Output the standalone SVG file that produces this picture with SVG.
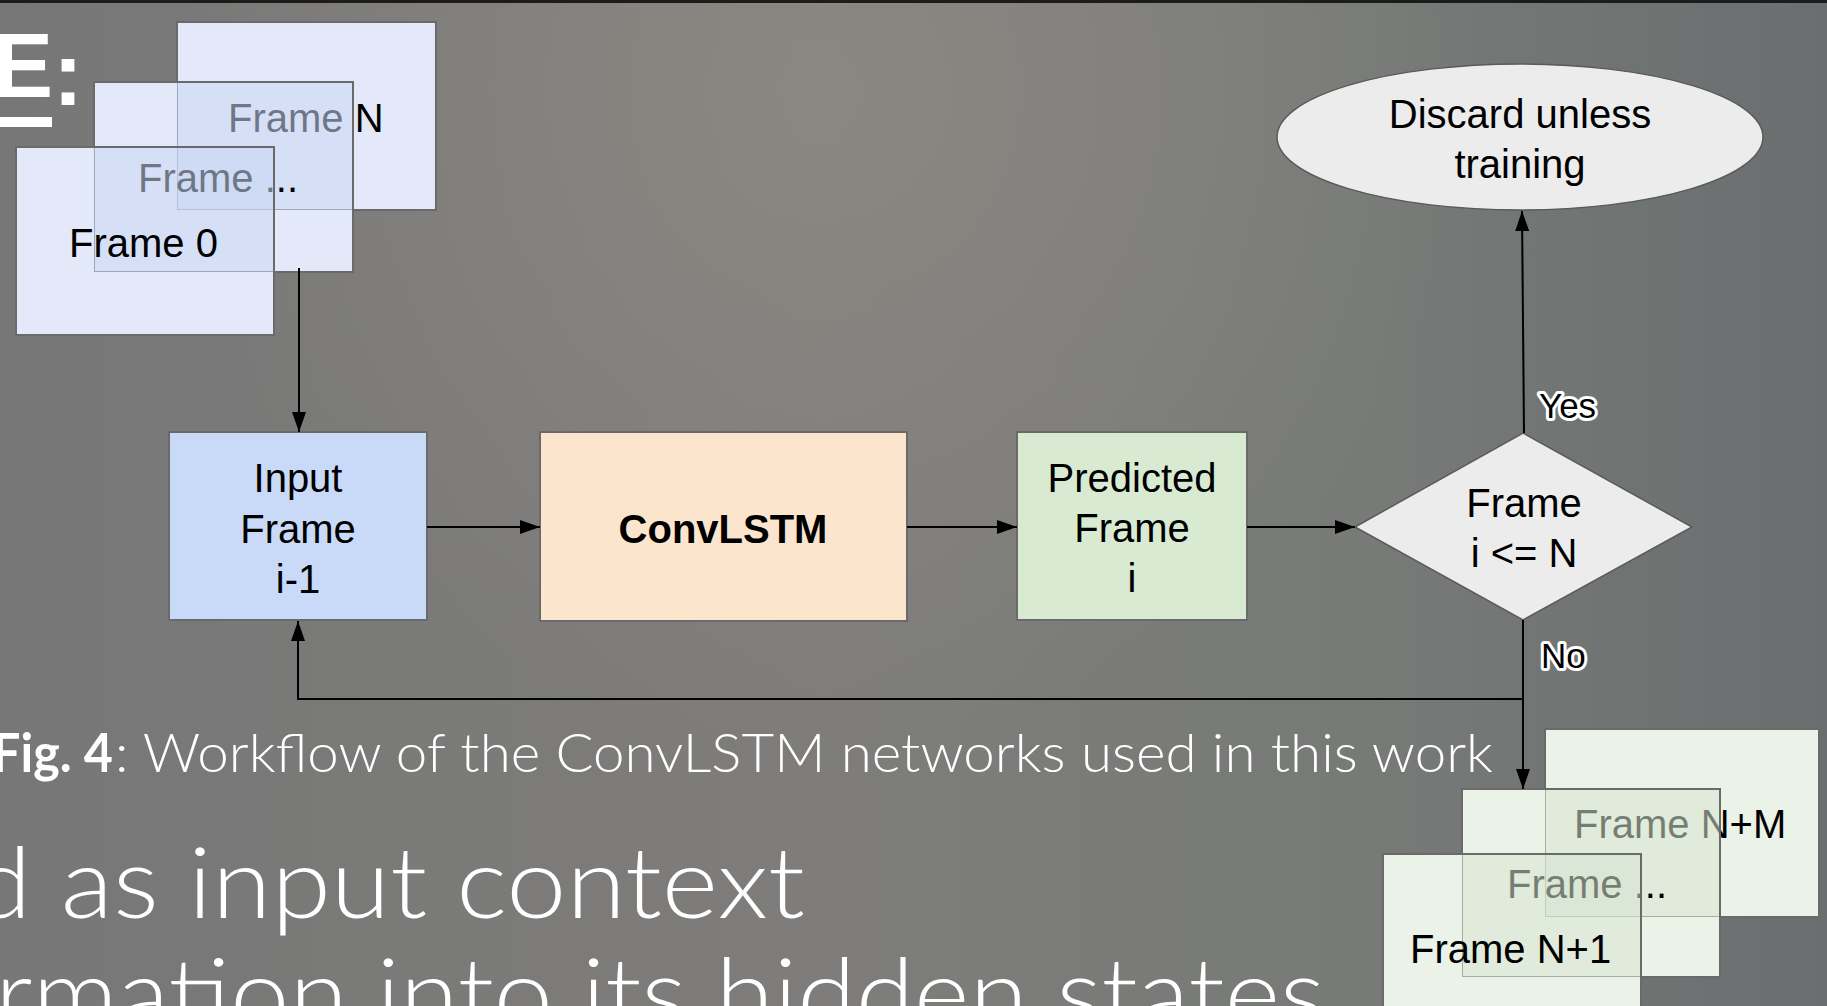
<svg xmlns="http://www.w3.org/2000/svg" width="1827" height="1006" viewBox="0 0 1827 1006">
<defs>
<linearGradient id="bg" x1="0" y1="0" x2="1" y2="0">
<stop offset="0" stop-color="#777777"/>
<stop offset="0.45" stop-color="#7e7d7b"/>
<stop offset="0.75" stop-color="#777a77"/>
<stop offset="1" stop-color="#6a6e6f"/>
</linearGradient>
<radialGradient id="glow" cx="820" cy="90" r="650" gradientUnits="userSpaceOnUse">
<stop offset="0" stop-color="#8e8a84" stop-opacity="0.8"/>
<stop offset="1" stop-color="#8e8a84" stop-opacity="0"/>
</radialGradient>
<marker id="arr" viewBox="0 0 20 14" markerWidth="20" markerHeight="14" refX="20" refY="7" orient="auto" markerUnits="userSpaceOnUse">
<path d="M0,0 L20,7 L0,14 Z" fill="#000"/>
</marker>
<style>
.t{font-family:"Liberation Sans",Arial,sans-serif;font-size:40px;fill:#000}
.c{text-anchor:middle}
.box{stroke:#6a6a6a;stroke-width:2}
.bs{fill:#e3e9f8}
.bo{fill:rgb(202,215,243);fill-opacity:0.55}
.gs{fill:#ebf3e8}
.go{fill:rgb(215,227,210);fill-opacity:0.55}
.edge{stroke:#6a6a6a;stroke-width:2;fill:none}
.lbl{font-family:"Liberation Sans",Arial,sans-serif;font-size:35px;fill:#000;stroke:#fff;stroke-width:6;stroke-linejoin:round;paint-order:stroke}
.cn{stroke:#000;stroke-width:2;fill:none}
.slide{font-family:Lato,"Open Sans",sans-serif;fill:#fff}
</style>
</defs>
<rect x="0" y="0" width="1827" height="1006" fill="url(#bg)"/>
<rect x="0" y="0" width="1827" height="1006" fill="url(#glow)"/>
<rect x="0" y="0" width="1827" height="3" fill="#1c1c1c"/>

<g id="title">
<text x="-7" y="97" style="font-family:'Liberation Sans',Arial,sans-serif;font-weight:700;font-size:90px;fill:#fff">E<tspan dy="8">:</tspan></text>
<rect x="0" y="117" width="52" height="10" fill="#fff"/>
</g>

<g id="caption" class="slide">
<text x="-8" y="772" font-size="53" font-weight="700" textLength="121" lengthAdjust="spacingAndGlyphs">Fig. 4</text>
<text x="115" y="772" font-size="53" font-weight="300" textLength="1378" lengthAdjust="spacingAndGlyphs">: Workflow of the ConvLSTM networks used in this work</text>
</g>
<g id="body-text" class="slide">
<text x="-28" y="918" font-size="98" font-weight="300" textLength="833" lengthAdjust="spacingAndGlyphs">d as input context</text>
<text x="-5" y="1029" font-size="98" font-weight="300" textLength="1330" lengthAdjust="spacingAndGlyphs">rmation into its hidden states</text>
</g>

<g id="input-frames">
<rect class="bs" x="177" y="22" width="259" height="188"/>
<rect class="edge" x="177" y="22" width="259" height="188"/>
<text class="t" x="228" y="132">Frame N</text>
<path class="bs" fill-rule="evenodd" d="M94,82 H353 V272 H94 Z M177,82 H353 V210 H177 Z"/>
<rect class="bo" x="177" y="82" width="176" height="128"/>
<rect class="edge" x="94" y="82" width="259" height="190"/>
<text class="t" x="138" y="192">Frame ...</text>
<path class="bs" fill-rule="evenodd" d="M16,147 H274 V335 H16 Z M94,147 H274 V272 H94 Z"/>
<rect class="bo" x="94" y="147" width="180" height="125"/>
<rect class="edge" x="16" y="147" width="258" height="188"/>
<text class="t" x="69" y="257">Frame 0</text>
</g>

<g id="output-frames">
<rect class="gs" x="1545" y="729" width="274" height="188"/>
<rect class="edge" x="1545" y="729" width="274" height="188"/>
<text class="t" x="1574" y="838">Frame N+M</text>
<path class="gs" fill-rule="evenodd" d="M1462,789 H1720 V977 H1462 Z M1545,789 H1720 V917 H1545 Z"/>
<rect class="go" x="1545" y="789" width="175" height="128"/>
<rect class="edge" x="1462" y="789" width="258" height="188"/>
<text class="t" x="1507" y="898">Frame ...</text>
<path class="gs" fill-rule="evenodd" d="M1383,854 H1641 V1042 H1383 Z M1462,854 H1641 V977 H1462 Z"/>
<rect class="go" x="1462" y="854" width="179" height="123"/>
<rect class="edge" x="1383" y="854" width="258" height="188"/>
<text class="t" x="1410" y="963">Frame N+1</text>
</g>

<g id="input-frame">
<rect class="box" x="169" y="432" width="258" height="188" fill="#c9daf8"/>
<text class="t c" x="298" y="492">Input</text>
<text class="t c" x="298" y="543">Frame</text>
<text class="t c" x="298" y="593">i-1</text>
</g>

<g id="convlstm">
<rect class="box" x="540" y="432" width="367" height="189" fill="#fce5cd"/>
<text class="t c" x="723" y="543" font-weight="700">ConvLSTM</text>
</g>

<g id="predicted-frame">
<rect class="box" x="1017" y="432" width="230" height="188" fill="#d9ead3"/>
<text class="t c" x="1132" y="492">Predicted</text>
<text class="t c" x="1132" y="542">Frame</text>
<text class="t c" x="1132" y="592">i</text>
</g>

<g id="decision">
<polygon points="1355,527 1523,433 1692,527 1523,620" fill="#ececec" stroke="#5a5a5a" stroke-width="1.5"/>
<text class="t c" x="1524" y="517">Frame</text>
<text class="t c" x="1524" y="567">i &lt;= N</text>
</g>

<g id="discard">
<ellipse cx="1520" cy="137" rx="243" ry="73" fill="#ececec" stroke="#5a5a5a" stroke-width="1.5"/>
<text class="t c" x="1520" y="128">Discard unless</text>
<text class="t c" x="1520" y="178">training</text>
</g>

<g id="connectors">
<line class="cn" x1="299" y1="268" x2="299" y2="432" marker-end="url(#arr)"/>
<line class="cn" x1="427" y1="527" x2="540" y2="527" marker-end="url(#arr)"/>
<line class="cn" x1="907" y1="527" x2="1017" y2="527" marker-end="url(#arr)"/>
<line class="cn" x1="1247" y1="527" x2="1355" y2="527" marker-end="url(#arr)"/>
<line class="cn" x1="1524" y1="433" x2="1522" y2="211" marker-end="url(#arr)"/>
<line class="cn" x1="1523" y1="620" x2="1523" y2="789" marker-end="url(#arr)"/>
<polyline class="cn" points="1523,699 298,699 298,621" marker-end="url(#arr)"/>
<text class="lbl" x="1539" y="418">Yes</text>
<text class="lbl" x="1541" y="668">No</text>
</g>
</svg>
